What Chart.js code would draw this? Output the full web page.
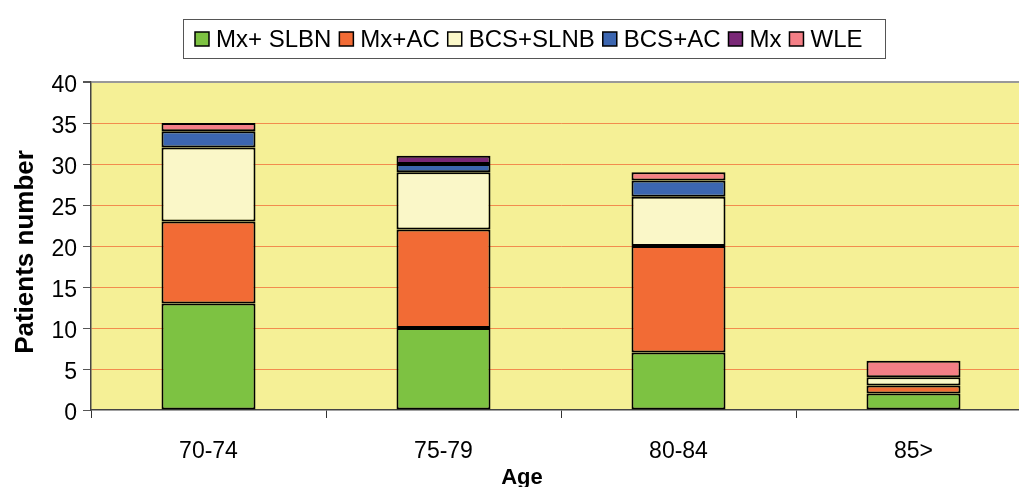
<!DOCTYPE html>
<html>
<head>
<meta charset="utf-8">
<script src="https://cdn.jsdelivr.net/npm/chart.js@4/dist/chart.umd.min.js"></script>
<style>
  html, body { margin: 0; padding: 0; background: #fff; overflow: hidden; }
  #wrap { position: relative; width: 1040px; height: 487px; }
</style>
</head>
<body>
<div id="wrap"><canvas id="c" width="1040" height="487"></canvas></div>
<script>
const categories = ['70-74', '75-79', '80-84', '85>'];
const mxSlbn  = [13, 10, 7, 2];
const mxAc    = [10, 12, 13, 1];
const bcsSlnb = [9, 7, 6, 1];
const bcsAc   = [2, 1, 2, 0];
const mx      = [0, 1, 0, 0];
const wle     = [1, 0, 1, 2];
const yTicks  = [0, 5, 10, 15, 20, 25, 30, 35, 40];

const seriesNames  = ['Mx+ SLBN', 'Mx+AC', 'BCS+SLNB', 'BCS+AC', 'Mx', 'WLE'];
const seriesData   = [mxSlbn, mxAc, bcsSlnb, bcsAc, mx, wle];
const seriesColors = ['#7DC242', '#F26B35', '#FAF7C8', '#3C66B0', '#7A2877', '#F47F86'];

const FONT = '"Liberation Sans", Arial, sans-serif';

const bgPlugin = {
  id: 'plotBg',
  beforeDraw(chart) {
    const a = chart.chartArea, ctx = chart.ctx;
    ctx.save();
    ctx.fillStyle = '#F5F096';
    ctx.fillRect(a.left, a.top, a.right - a.left, a.bottom - a.top);
    ctx.restore();
  }
};

const extrasPlugin = {
  id: 'extras',
  afterDraw(chart) {
    const ctx = chart.ctx;
    ctx.save();
    // Legend box
    ctx.strokeStyle = '#555';
    ctx.lineWidth = 1;
    ctx.strokeRect(183.5, 19.5, 702, 39);
    ctx.font = '24px ' + FONT;
    ctx.textBaseline = 'middle';
    let x = 195;
    const yc = 39;
    chart.data.datasets.forEach(ds => {
      ctx.fillStyle = ds.backgroundColor;
      ctx.fillRect(x, yc - 7, 14, 14);
      ctx.strokeStyle = '#000';
      ctx.lineWidth = 1.5;
      ctx.strokeRect(x, yc - 7, 14, 14);
      ctx.fillStyle = '#000';
      ctx.textAlign = 'left';
      ctx.fillText(ds.label, x + 21, yc + 1);
      x += 21 + ctx.measureText(ds.label).width + 8;
    });
    // Axis titles
    ctx.fillStyle = '#000';
    ctx.textAlign = 'center';
    ctx.textBaseline = 'alphabetic';
    ctx.font = 'bold 22px ' + FONT;
    ctx.fillText('Age', 522, 484);
    ctx.font = 'bold 26px ' + FONT;
    ctx.translate(33, 252);
    ctx.rotate(-Math.PI / 2);
    ctx.fillText('Patients number', 0, 0);
    ctx.restore();
  }
};

new Chart(document.getElementById('c'), {
  type: 'bar',
  data: {
    labels: categories,
    datasets: seriesNames.map((n, i) => ({
      label: n,
      data: seriesData[i],
      backgroundColor: seriesColors[i],
      borderColor: '#000',
      borderWidth: 2,
      borderSkipped: false,
      barPercentage: 0.4,
      categoryPercentage: 1.0
    }))
  },
  options: {
    responsive: false,
    animation: false,
    layout: { padding: { left: 0, right: 9, top: 82, bottom: 0 } },
    plugins: { legend: { display: false }, tooltip: { enabled: false } },
    scales: {
      x: {
        stacked: true,
        offset: true,
        grid: { offset: true, drawOnChartArea: false, tickLength: 8, tickColor: '#333', lineWidth: 1 },
        border: { color: '#444', width: 1.5 },
        ticks: { color: '#000', font: { family: FONT, size: 23 }, padding: 20, maxRotation: 0 },
        afterFit(s) { s.height = 77; }
      },
      y: {
        stacked: true,
        min: 0, max: 40,
        afterBuildTicks(s) { s.ticks = yTicks.map(v => ({ value: v })); },
        grid: {
          color: ctx => ctx.tick && ctx.tick.value === 40 ? '#999' : (ctx.tick && ctx.tick.value === 0 ? 'rgba(0,0,0,0)' : '#F28C4E'),
          lineWidth: ctx => ctx.tick && ctx.tick.value === 40 ? 2 : 1,
          tickColor: '#555',
          tickLength: 8
        },
        border: { color: '#444', width: 1.5 },
        ticks: { color: '#000', font: { family: FONT, size: 23 }, padding: 6, labelOffset: 4 },
        afterFit(s) { s.width = 91; }
      }
    }
  },
  plugins: [bgPlugin, extrasPlugin]
});
</script>
</body>
</html>
